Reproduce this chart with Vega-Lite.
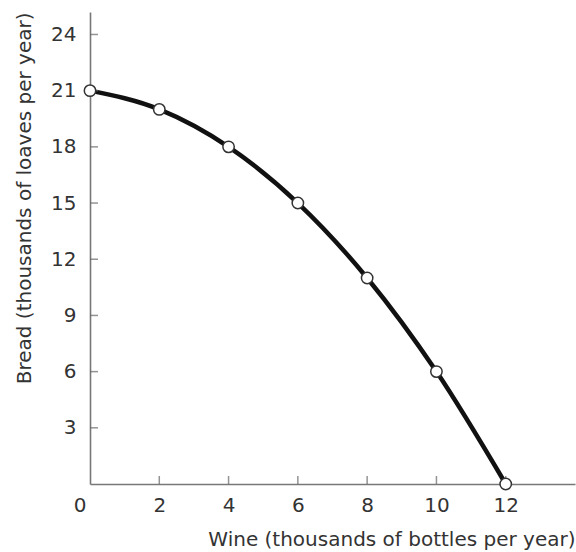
{
  "$schema": "https://vega.github.io/schema/vega-lite/v6.json",
  "width": 485,
  "height": 472,
  "autosize": "none",
  "padding": {"left": 90, "top": 12, "right": 1, "bottom": 68},
  "background": "white",
  "config": {
    "view": {"stroke": null},
    "axis": {
      "labelFont": "DejaVu Sans",
      "titleFont": "DejaVu Sans",
      "labelFontSize": 20,
      "titleFontSize": 20,
      "labelColor": "#333333",
      "titleColor": "#333333",
      "titleFontWeight": "normal",
      "domainColor": "#777777",
      "domainWidth": 1.6,
      "grid": false
    }
  },
  "datasets": {
    "ppf": [
      {"wine": 0, "bread": 21},
      {"wine": 2, "bread": 20},
      {"wine": 4, "bread": 18},
      {"wine": 6, "bread": 15},
      {"wine": 8, "bread": 11},
      {"wine": 10, "bread": 6},
      {"wine": 12, "bread": 0}
    ],
    "xticks": [{"v": 2}, {"v": 4}, {"v": 6}, {"v": 8}, {"v": 10}, {"v": 12}],
    "yticks": [{"v": 3}, {"v": 6}, {"v": 9}, {"v": 12}, {"v": 15}, {"v": 18}, {"v": 21}, {"v": 24}]
  },
  "layer": [
    {
      "data": {"name": "ppf"},
      "mark": {"type": "line", "interpolate": "monotone", "color": "#111111", "strokeWidth": 4.5},
      "encoding": {
        "x": {
          "field": "wine",
          "type": "quantitative",
          "scale": {"domain": [0, 14], "nice": false, "zero": true},
          "axis": {
            "values": [0, 2, 4, 6, 8, 10, 12],
            "ticks": false,
            "labelPadding": 11,
            "labelAlign": {"condition": {"test": "datum.value == 0", "value": "right"}, "value": "center"},
            "labelOffset": {"condition": {"test": "datum.value == 0", "value": -4}, "value": 0},
            "title": "Wine (thousands of bottles per year)",
            "titleAnchor": "end",
            "titlePadding": 14
          }
        },
        "y": {
          "field": "bread",
          "type": "quantitative",
          "scale": {"domain": [0, 25.2], "nice": false},
          "axis": {
            "values": [3, 6, 9, 12, 15, 18, 21, 24],
            "ticks": false,
            "labelPadding": 14,
            "title": "Bread (thousands of loaves per year)",
            "titleAnchor": "end",
            "titlePadding": 16
          }
        }
      }
    },
    {
      "data": {"name": "xticks"},
      "mark": {"type": "tick", "orient": "vertical", "size": 8, "yOffset": -4, "thickness": 1.5, "color": "#666666"},
      "encoding": {
        "x": {"field": "v", "type": "quantitative"},
        "y": {"datum": 0, "type": "quantitative"}
      }
    },
    {
      "data": {"name": "yticks"},
      "mark": {"type": "tick", "orient": "horizontal", "size": 8, "xOffset": 4, "thickness": 1.5, "color": "#666666"},
      "encoding": {
        "x": {"datum": 0, "type": "quantitative"},
        "y": {"field": "v", "type": "quantitative"}
      }
    },
    {
      "data": {"name": "ppf"},
      "mark": {"type": "point", "filled": true, "fill": "white", "stroke": "#333333", "strokeWidth": 1.5, "size": 130, "opacity": 1},
      "encoding": {
        "x": {"field": "wine", "type": "quantitative"},
        "y": {"field": "bread", "type": "quantitative"}
      }
    }
  ]
}
